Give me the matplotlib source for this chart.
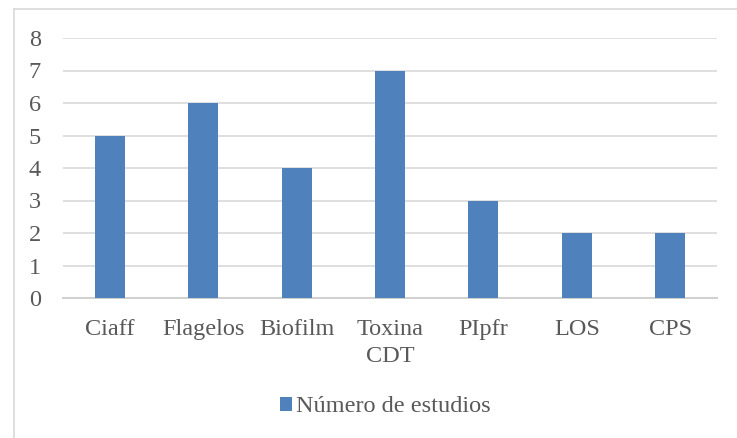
import matplotlib
matplotlib.use("Agg")
import matplotlib.pyplot as plt
from matplotlib.patches import Patch
from matplotlib.lines import Line2D

categories = ["Ciaff", "Flagelos", "Biofilm", "Toxina\nCDT", "PIpfr", "LOS", "CPS"]
estudios = [5, 6, 4, 7, 3, 2, 2]
y_ticks = [0, 1, 2, 3, 4, 5, 6, 7, 8]
series_name = "Número de estudios"

bar_color = "#4F81BD"
text_color = "#595959"
grid_color = "#D9D9D9"
font_size = 17.5

plt.rcParams["font.family"] = "serif"
plt.rcParams["font.serif"] = ["Liberation Serif", "DejaVu Serif"]

W, H = 737, 438
fig = plt.figure(figsize=(W / 100, H / 100), dpi=100)
fig.patch.set_facecolor("white")

# chart frame (left and top edges)
fig.add_artist(Line2D([13.5 / W, 13.5 / W], [0, 1 - 9 / H], transform=fig.transFigure,
                      color=grid_color, lw=1.2))
fig.add_artist(Line2D([13.5 / W, 1], [1 - 9 / H, 1 - 9 / H], transform=fig.transFigure,
                      color=grid_color, lw=1.2))

left, right = 63 / W, 717 / W
top, bottom = 1 - 38 / H, 1 - 298 / H
ax = fig.add_axes([left, bottom, right - left, top - bottom])

x = list(range(len(categories)))
ax.bar(x, estudios, width=0.32, color=bar_color, zorder=3)

ax.set_xlim(-0.5, len(categories) - 0.5)
ax.set_ylim(0, 8)
ax.set_yticks(y_ticks)
ax.set_yticklabels([str(t) for t in y_ticks])
ax.set_xticks(x)
ax.set_xticklabels(categories, linespacing=1.4)

ax.yaxis.grid(True, color=grid_color, lw=1.2, zorder=0)
ax.set_axisbelow(True)
for s in ["top", "right", "left"]:
    ax.spines[s].set_visible(False)
ax.spines["bottom"].set_color("#D0D0D0")
ax.spines["bottom"].set_linewidth(1.4)

ax.tick_params(axis="both", length=0, labelsize=font_size, labelcolor=text_color)
ax.tick_params(axis="y", pad=16)
ax.tick_params(axis="x", pad=15)

handle = Patch(facecolor=bar_color, edgecolor="none")
fig.legend([handle], [series_name], loc="center", bbox_to_anchor=(385 / W, 1 - 407 / H),
           frameon=False, fontsize=font_size, labelcolor=text_color,
           handlelength=0.5, handleheight=0.5, handletextpad=0.15)

fig.savefig("out.png", dpi=100, facecolor="white")
